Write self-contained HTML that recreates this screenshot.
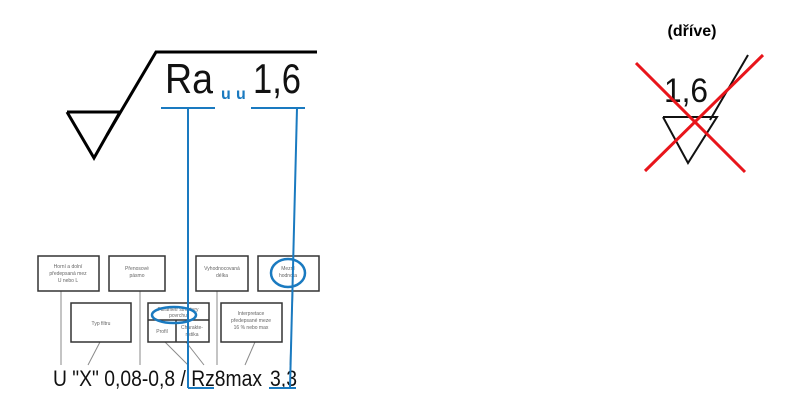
<!DOCTYPE html>
<html><head><style>html,body{margin:0;padding:0;background:#fff}</style></head><body>
<svg width="796" height="411" xmlns="http://www.w3.org/2000/svg" font-family="Liberation Sans, sans-serif">
<g fill="none" stroke="#000" stroke-width="3">
<polyline points="67,112 120,112 94,158 67,112"/>
<polyline points="107,135 156,52 317,52"/>
</g>
<text x="165" y="93" font-size="42" fill="#111" textLength="48" lengthAdjust="spacingAndGlyphs">Ra</text>
<text x="253" y="93" font-size="42" fill="#111" textLength="48" lengthAdjust="spacingAndGlyphs">1,6</text>
<text x="221" y="99" font-size="16" font-weight="bold" fill="#1a7ac0">u</text>
<text x="236" y="99" font-size="16" font-weight="bold" fill="#1a7ac0">u</text>
<g stroke="#8a8a8a" stroke-width="1" fill="none">
<line x1="61" y1="291" x2="61" y2="365"/><line x1="100" y1="342" x2="88" y2="365"/>
<line x1="140" y1="291" x2="140" y2="365"/><line x1="165" y1="342" x2="188" y2="365"/>
<line x1="186" y1="342" x2="204" y2="365"/><line x1="217" y1="291" x2="217" y2="365"/>
<line x1="255" y1="342" x2="245" y2="365"/><line x1="293" y1="291" x2="290" y2="365"/>
</g>
<g stroke="#333" stroke-width="1.5" fill="#fff">
<rect x="38" y="256" width="61" height="35"/><rect x="109" y="256" width="56" height="35"/>
<rect x="196" y="256" width="52" height="35"/><rect x="258" y="256" width="61" height="35"/>
<rect x="71" y="303" width="60" height="39"/><rect x="148" y="303" width="61" height="39"/>
<rect x="221" y="303" width="61" height="39"/>
<line x1="148" y1="320" x2="209" y2="320"/><line x1="176" y1="320" x2="176" y2="342"/>
</g>
<g font-size="5" fill="#666" text-anchor="middle">
<text x="68" y="268">Horní a dolní</text><text x="68" y="275">předepsaná mez</text><text x="68" y="282">U nebo L</text>
<text x="137" y="270">Přenosové</text><text x="137" y="277">pásmo</text>
<text x="222" y="270">Vyhodnocovaná</text><text x="222" y="277">délka</text>
<text x="288" y="270">Mezní</text><text x="288" y="277">hodnota</text>
<text x="101" y="325">Typ filtru</text>
<text x="178" y="311">Parametr struktury</text><text x="178" y="317">povrchu</text>
<text x="162" y="333">Profil</text><text x="192" y="329">Charakte-</text><text x="192" y="336">ristika</text>
<text x="251" y="315">Interpretace</text><text x="251" y="322">předepsané meze</text><text x="251" y="329">16 % nebo max</text>
</g>
<text x="53" y="386" font-size="22" fill="#111" textLength="209" lengthAdjust="spacingAndGlyphs">U "X" 0,08-0,8 / Rz8max</text>
<text x="270" y="386" font-size="22" fill="#111" textLength="27" lengthAdjust="spacingAndGlyphs">3,3</text>
<g stroke="#1a7ac0" stroke-width="2.5" fill="none">
<ellipse cx="174" cy="315" rx="22" ry="8"/><ellipse cx="288" cy="273" rx="17" ry="14"/>
</g>
<g stroke="#1a7ac0" stroke-width="2" fill="none">
<line x1="161" y1="108" x2="215" y2="108"/><line x1="251" y1="108" x2="305" y2="108"/>
<line x1="188" y1="108" x2="188" y2="388"/><line x1="188" y1="388" x2="214" y2="388"/>
<line x1="297" y1="108" x2="290" y2="388"/><line x1="269" y1="388" x2="296" y2="388"/>
</g>
<text x="692" y="36" font-size="16" font-weight="bold" text-anchor="middle">(dříve)</text>
<text x="664" y="102" font-size="34" fill="#111" textLength="44" lengthAdjust="spacingAndGlyphs">1,6</text>
<g fill="none" stroke="#111" stroke-width="2">
<polyline points="663,117 717,117 688,163 663,117"/>
<line x1="710" y1="120" x2="748" y2="55"/>
</g>
<g stroke="#e8151b" stroke-width="3">
<line x1="636" y1="63" x2="745" y2="172"/><line x1="763" y1="55" x2="645" y2="171"/>
</g>
</svg>
</body></html>
